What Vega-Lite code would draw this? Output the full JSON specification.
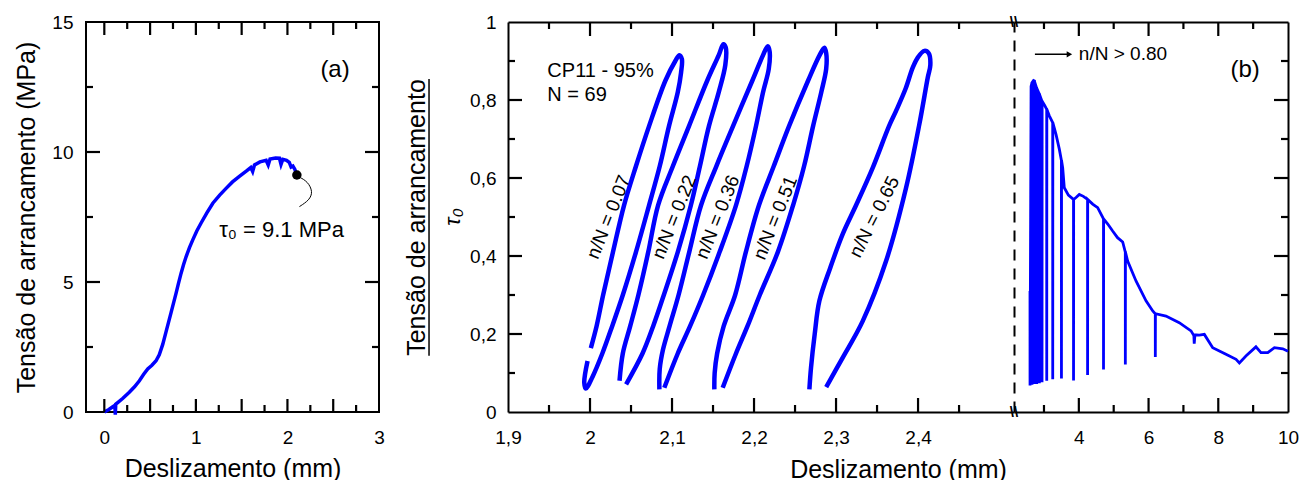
{
  "$schema": "https://vega.github.io/schema/vega-lite/v6.json",
  "background": "white",
  "padding": {"left": 12, "top": 12, "right": 10, "bottom": 0},
  "config": {
    "font": "Liberation Sans",
    "view": {"stroke": null},
    "axis": {"grid": false, "domain": false, "ticks": false, "tickSize": 0, "labelFont": "Liberation Sans", "labelFontSize": 19, "labelColor": "#000", "labelFlush": false, "labelOverlap": false, "titleFont": "Liberation Sans", "titleFontSize": 25, "titleFontWeight": "normal", "titleColor": "#000", "domainColor": "#000", "domainWidth": 2}
  },
  "datasets": {
    "curveA": [
      {"i":0,"x":0,"y":0},{"i":1,"x":0.05,"y":0.1},{"i":2,"x":0.1,"y":0.22},{"i":3,"x":0.115,"y":0.26},{"i":4,"x":0.12,"y":-0.1},{"i":5,"x":0.125,"y":0.3},{"i":6,"x":0.146,"y":0.36},{"i":7,"x":0.2,"y":0.52},{"i":8,"x":0.273,"y":0.76},{"i":9,"x":0.33,"y":0.97},{"i":10,"x":0.383,"y":1.2},{"i":11,"x":0.43,"y":1.45},{"i":12,"x":0.474,"y":1.66},{"i":13,"x":0.52,"y":1.8},{"i":14,"x":0.565,"y":1.97},{"i":15,"x":0.6,"y":2.2},{"i":16,"x":0.638,"y":2.6},{"i":17,"x":0.674,"y":3.08},{"i":18,"x":0.729,"y":3.82},{"i":19,"x":0.784,"y":4.57},{"i":20,"x":0.81,"y":4.95},{"i":21,"x":0.838,"y":5.33},{"i":22,"x":0.865,"y":5.66},{"i":23,"x":0.893,"y":5.97},{"i":24,"x":0.93,"y":6.32},{"i":25,"x":0.966,"y":6.62},{"i":26,"x":1.01,"y":6.96},{"i":27,"x":1.057,"y":7.27},{"i":28,"x":1.12,"y":7.66},{"i":29,"x":1.185,"y":8.03},{"i":30,"x":1.26,"y":8.34},{"i":31,"x":1.33,"y":8.6},{"i":32,"x":1.4,"y":8.85},{"i":33,"x":1.475,"y":9.06},{"i":34,"x":1.55,"y":9.26},{"i":35,"x":1.6,"y":9.4},{"i":36,"x":1.62,"y":9.25},{"i":37,"x":1.64,"y":9.5},{"i":38,"x":1.7,"y":9.62},{"i":39,"x":1.767,"y":9.68},{"i":40,"x":1.79,"y":9.5},{"i":41,"x":1.81,"y":9.73},{"i":42,"x":1.87,"y":9.77},{"i":43,"x":1.913,"y":9.76},{"i":44,"x":1.93,"y":9.52},{"i":45,"x":1.95,"y":9.72},{"i":46,"x":1.99,"y":9.68},{"i":47,"x":2.02,"y":9.6},{"i":48,"x":2.04,"y":9.42},{"i":49,"x":2.06,"y":9.46},{"i":50,"x":2.08,"y":9.34},{"i":51,"x":2.103,"y":9.12}
    ],
    "leader": [
      {"i":0,"x":2.128,"y":9.04},{"i":1,"x":2.223,"y":8.86},{"i":2,"x":2.278,"y":8.47},{"i":3,"x":2.24,"y":8.15},{"i":4,"x":2.131,"y":7.9}
    ],
    "tkA": [
      {"t":1,"x":0,"y":0},{"t":1,"x":0,"y":0.5},{"t":2,"x":0.5,"y":0},{"t":2,"x":0.5,"y":0.5},{"t":3,"x":1,"y":0},{"t":3,"x":1,"y":0.5},{"t":4,"x":1.5,"y":0},{"t":4,"x":1.5,"y":0.5},{"t":5,"x":2,"y":0},{"t":5,"x":2,"y":0.5},{"t":6,"x":2.5,"y":0},{"t":6,"x":2.5,"y":0.5},
      {"t":7,"x":0.25,"y":0},{"t":7,"x":0.25,"y":0.27},{"t":8,"x":0.75,"y":0},{"t":8,"x":0.75,"y":0.27},{"t":9,"x":1.25,"y":0},{"t":9,"x":1.25,"y":0.27},{"t":10,"x":1.75,"y":0},{"t":10,"x":1.75,"y":0.27},{"t":11,"x":2.25,"y":0},{"t":11,"x":2.25,"y":0.27},{"t":12,"x":2.75,"y":0},{"t":12,"x":2.75,"y":0.27},
      {"t":13,"x":0,"y":15},{"t":13,"x":0,"y":14.5},{"t":14,"x":0.5,"y":15},{"t":14,"x":0.5,"y":14.5},{"t":15,"x":1,"y":15},{"t":15,"x":1,"y":14.5},{"t":16,"x":1.5,"y":15},{"t":16,"x":1.5,"y":14.5},{"t":17,"x":2,"y":15},{"t":17,"x":2,"y":14.5},{"t":18,"x":2.5,"y":15},{"t":18,"x":2.5,"y":14.5},
      {"t":19,"x":0.25,"y":15},{"t":19,"x":0.25,"y":14.73},{"t":20,"x":0.75,"y":15},{"t":20,"x":0.75,"y":14.73},{"t":21,"x":1.25,"y":15},{"t":21,"x":1.25,"y":14.73},{"t":22,"x":1.75,"y":15},{"t":22,"x":1.75,"y":14.73},{"t":23,"x":2.25,"y":15},{"t":23,"x":2.25,"y":14.73},{"t":24,"x":2.75,"y":15},{"t":24,"x":2.75,"y":14.73},
      {"t":25,"x":-0.2,"y":5},{"t":25,"x":-0.047,"y":5},{"t":26,"x":-0.2,"y":10},{"t":26,"x":-0.047,"y":10},
      {"t":27,"x":-0.2,"y":2.5},{"t":27,"x":-0.1235,"y":2.5},{"t":28,"x":-0.2,"y":7.5},{"t":28,"x":-0.1235,"y":7.5},{"t":29,"x":-0.2,"y":12.5},{"t":29,"x":-0.1235,"y":12.5},
      {"t":30,"x":3,"y":5},{"t":30,"x":2.847,"y":5},{"t":31,"x":3,"y":10},{"t":31,"x":2.847,"y":10},
      {"t":32,"x":3,"y":2.5},{"t":32,"x":2.9235,"y":2.5},{"t":33,"x":3,"y":7.5},{"t":33,"x":2.9235,"y":7.5},{"t":34,"x":3,"y":12.5},{"t":34,"x":2.9235,"y":12.5}
    ],
    "tkBL": [
      {"t":1,"x":2,"y":0},{"t":1,"x":2,"y":0.0359},{"t":2,"x":2.1,"y":0},{"t":2,"x":2.1,"y":0.0359},{"t":3,"x":2.2,"y":0},{"t":3,"x":2.2,"y":0.0359},{"t":4,"x":2.3,"y":0},{"t":4,"x":2.3,"y":0.0359},{"t":5,"x":2.4,"y":0},{"t":5,"x":2.4,"y":0.0359},
      {"t":6,"x":1.95,"y":0},{"t":6,"x":1.95,"y":0.018},{"t":7,"x":2.05,"y":0},{"t":7,"x":2.05,"y":0.018},{"t":8,"x":2.15,"y":0},{"t":8,"x":2.15,"y":0.018},{"t":9,"x":2.25,"y":0},{"t":9,"x":2.25,"y":0.018},{"t":10,"x":2.35,"y":0},{"t":10,"x":2.35,"y":0.018},{"t":11,"x":2.45,"y":0},{"t":11,"x":2.45,"y":0.018},
      {"t":12,"x":2,"y":1},{"t":12,"x":2,"y":0.9641},{"t":13,"x":2.1,"y":1},{"t":13,"x":2.1,"y":0.9641},{"t":14,"x":2.2,"y":1},{"t":14,"x":2.2,"y":0.9641},{"t":15,"x":2.3,"y":1},{"t":15,"x":2.3,"y":0.9641},{"t":16,"x":2.4,"y":1},{"t":16,"x":2.4,"y":0.9641},
      {"t":17,"x":1.95,"y":1},{"t":17,"x":1.95,"y":0.982},{"t":18,"x":2.05,"y":1},{"t":18,"x":2.05,"y":0.982},{"t":19,"x":2.15,"y":1},{"t":19,"x":2.15,"y":0.982},{"t":20,"x":2.25,"y":1},{"t":20,"x":2.25,"y":0.982},{"t":21,"x":2.35,"y":1},{"t":21,"x":2.35,"y":0.982},{"t":22,"x":2.45,"y":1},{"t":22,"x":2.45,"y":0.982},
      {"t":23,"x":1.9,"y":0.2},{"t":23,"x":1.91707,"y":0.2},{"t":24,"x":1.9,"y":0.4},{"t":24,"x":1.91707,"y":0.4},{"t":25,"x":1.9,"y":0.6},{"t":25,"x":1.91707,"y":0.6},{"t":26,"x":1.9,"y":0.8},{"t":26,"x":1.91707,"y":0.8},
      {"t":27,"x":1.9,"y":0.1},{"t":27,"x":1.90854,"y":0.1},{"t":28,"x":1.9,"y":0.3},{"t":28,"x":1.90854,"y":0.3},{"t":29,"x":1.9,"y":0.5},{"t":29,"x":1.90854,"y":0.5},{"t":30,"x":1.9,"y":0.7},{"t":30,"x":1.90854,"y":0.7},{"t":31,"x":1.9,"y":0.9},{"t":31,"x":1.90854,"y":0.9}
    ],
    "tkBR": [
      {"t":1,"x":4,"y":0},{"t":1,"x":4,"y":0.0359},{"t":2,"x":6,"y":0},{"t":2,"x":6,"y":0.0359},{"t":3,"x":8,"y":0},{"t":3,"x":8,"y":0.0359},
      {"t":4,"x":3,"y":0},{"t":4,"x":3,"y":0.018},{"t":5,"x":5,"y":0},{"t":5,"x":5,"y":0.018},{"t":6,"x":7,"y":0},{"t":6,"x":7,"y":0.018},{"t":7,"x":9,"y":0},{"t":7,"x":9,"y":0.018},
      {"t":8,"x":4,"y":1},{"t":8,"x":4,"y":0.9641},{"t":9,"x":6,"y":1},{"t":9,"x":6,"y":0.9641},{"t":10,"x":8,"y":1},{"t":10,"x":8,"y":0.9641},
      {"t":11,"x":3,"y":1},{"t":11,"x":3,"y":0.982},{"t":12,"x":5,"y":1},{"t":12,"x":5,"y":0.982},{"t":13,"x":7,"y":1},{"t":13,"x":7,"y":0.982},{"t":14,"x":9,"y":1},{"t":14,"x":9,"y":0.982},
      {"t":15,"x":10,"y":0.2},{"t":15,"x":9.5984,"y":0.2},{"t":16,"x":10,"y":0.4},{"t":16,"x":9.5984,"y":0.4},{"t":17,"x":10,"y":0.6},{"t":17,"x":9.5984,"y":0.6},{"t":18,"x":10,"y":0.8},{"t":18,"x":9.5984,"y":0.8},
      {"t":19,"x":10,"y":0.1},{"t":19,"x":9.7992,"y":0.1},{"t":20,"x":10,"y":0.3},{"t":20,"x":9.7992,"y":0.3},{"t":21,"x":10,"y":0.5},{"t":21,"x":9.7992,"y":0.5},{"t":22,"x":10,"y":0.7},{"t":22,"x":9.7992,"y":0.7},{"t":23,"x":10,"y":0.9},{"t":23,"x":9.7992,"y":0.9}
    ],
    "loops": [
      {"loop":1,"i":0,"x":2.001,"y":0.164},{"loop":1,"i":1,"x":2.008,"y":0.22},{"loop":1,"i":2,"x":2.016,"y":0.3},{"loop":1,"i":3,"x":2.028,"y":0.41},{"loop":1,"i":4,"x":2.0415,"y":0.53},{"loop":1,"i":5,"x":2.056,"y":0.63},{"loop":1,"i":6,"x":2.072,"y":0.733},{"loop":1,"i":7,"x":2.092,"y":0.85},{"loop":1,"i":8,"x":2.104,"y":0.9},{"loop":1,"i":9,"x":2.109,"y":0.915},{"loop":1,"i":10,"x":2.112,"y":0.905},{"loop":1,"i":11,"x":2.111,"y":0.87},{"loop":1,"i":12,"x":2.107,"y":0.82},{"loop":1,"i":13,"x":2.0963,"y":0.733},{"loop":1,"i":14,"x":2.085,"y":0.63},{"loop":1,"i":15,"x":2.072,"y":0.53},{"loop":1,"i":16,"x":2.056,"y":0.41},{"loop":1,"i":17,"x":2.04,"y":0.3},{"loop":1,"i":18,"x":2.027,"y":0.22},{"loop":1,"i":19,"x":2.015,"y":0.15},{"loop":1,"i":20,"x":2.003,"y":0.09},{"loop":1,"i":21,"x":1.995,"y":0.06},{"loop":1,"i":22,"x":1.993,"y":0.075},{"loop":1,"i":23,"x":1.997,"y":0.131},
      {"loop":2,"i":0,"x":2.036,"y":0.08},{"loop":2,"i":1,"x":2.04,"y":0.15},{"loop":2,"i":2,"x":2.049,"y":0.22},{"loop":2,"i":3,"x":2.059,"y":0.3},{"loop":2,"i":4,"x":2.071,"y":0.41},{"loop":2,"i":5,"x":2.083,"y":0.53},{"loop":2,"i":6,"x":2.101,"y":0.63},{"loop":2,"i":7,"x":2.1207,"y":0.733},{"loop":2,"i":8,"x":2.143,"y":0.85},{"loop":2,"i":9,"x":2.157,"y":0.915},{"loop":2,"i":10,"x":2.1626,"y":0.943},{"loop":2,"i":11,"x":2.1655,"y":0.935},{"loop":2,"i":12,"x":2.165,"y":0.89},{"loop":2,"i":13,"x":2.157,"y":0.82},{"loop":2,"i":14,"x":2.145,"y":0.733},{"loop":2,"i":15,"x":2.134,"y":0.63},{"loop":2,"i":16,"x":2.123,"y":0.53},{"loop":2,"i":17,"x":2.107,"y":0.41},{"loop":2,"i":18,"x":2.09,"y":0.3},{"loop":2,"i":19,"x":2.077,"y":0.22},{"loop":2,"i":20,"x":2.064,"y":0.15},{"loop":2,"i":21,"x":2.044,"y":0.071},
      {"loop":3,"i":0,"x":2.0846,"y":0.058},{"loop":3,"i":1,"x":2.085,"y":0.11},{"loop":3,"i":2,"x":2.089,"y":0.16},{"loop":3,"i":3,"x":2.097,"y":0.22},{"loop":3,"i":4,"x":2.108,"y":0.3},{"loop":3,"i":5,"x":2.121,"y":0.41},{"loop":3,"i":6,"x":2.1354,"y":0.53},{"loop":3,"i":7,"x":2.154,"y":0.63},{"loop":3,"i":8,"x":2.1744,"y":0.733},{"loop":3,"i":9,"x":2.198,"y":0.85},{"loop":3,"i":10,"x":2.211,"y":0.915},{"loop":3,"i":11,"x":2.2167,"y":0.938},{"loop":3,"i":12,"x":2.219,"y":0.925},{"loop":3,"i":13,"x":2.218,"y":0.88},{"loop":3,"i":14,"x":2.211,"y":0.82},{"loop":3,"i":15,"x":2.2024,"y":0.733},{"loop":3,"i":16,"x":2.191,"y":0.63},{"loop":3,"i":17,"x":2.178,"y":0.53},{"loop":3,"i":18,"x":2.158,"y":0.41},{"loop":3,"i":19,"x":2.138,"y":0.3},{"loop":3,"i":20,"x":2.122,"y":0.22},{"loop":3,"i":21,"x":2.107,"y":0.15},{"loop":3,"i":22,"x":2.0906,"y":0.062},
      {"loop":4,"i":0,"x":2.1516,"y":0.058},{"loop":4,"i":1,"x":2.152,"y":0.1},{"loop":4,"i":2,"x":2.155,"y":0.15},{"loop":4,"i":3,"x":2.163,"y":0.22},{"loop":4,"i":4,"x":2.177,"y":0.3},{"loop":4,"i":5,"x":2.19,"y":0.41},{"loop":4,"i":6,"x":2.206,"y":0.53},{"loop":4,"i":7,"x":2.224,"y":0.63},{"loop":4,"i":8,"x":2.2427,"y":0.733},{"loop":4,"i":9,"x":2.266,"y":0.85},{"loop":4,"i":10,"x":2.28,"y":0.915},{"loop":4,"i":11,"x":2.2858,"y":0.934},{"loop":4,"i":12,"x":2.288,"y":0.92},{"loop":4,"i":13,"x":2.288,"y":0.88},{"loop":4,"i":14,"x":2.282,"y":0.82},{"loop":4,"i":15,"x":2.272,"y":0.733},{"loop":4,"i":16,"x":2.261,"y":0.63},{"loop":4,"i":17,"x":2.2476,"y":0.53},{"loop":4,"i":18,"x":2.229,"y":0.41},{"loop":4,"i":19,"x":2.207,"y":0.3},{"loop":4,"i":20,"x":2.192,"y":0.22},{"loop":4,"i":21,"x":2.178,"y":0.15},{"loop":4,"i":22,"x":2.1618,"y":0.062},
      {"loop":5,"i":0,"x":2.2675,"y":0.058},{"loop":5,"i":1,"x":2.2695,"y":0.114},{"loop":5,"i":2,"x":2.274,"y":0.2},{"loop":5,"i":3,"x":2.2797,"y":0.285},{"loop":5,"i":4,"x":2.293,"y":0.37},{"loop":5,"i":5,"x":2.3081,"y":0.456},{"loop":5,"i":6,"x":2.3244,"y":0.53},{"loop":5,"i":7,"x":2.3447,"y":0.626},{"loop":5,"i":8,"x":2.3646,"y":0.733},{"loop":5,"i":9,"x":2.3732,"y":0.772},{"loop":5,"i":10,"x":2.385,"y":0.83},{"loop":5,"i":11,"x":2.3935,"y":0.883},{"loop":5,"i":12,"x":2.4,"y":0.91},{"loop":5,"i":13,"x":2.4077,"y":0.926},{"loop":5,"i":14,"x":2.413,"y":0.92},{"loop":5,"i":15,"x":2.415,"y":0.89},{"loop":5,"i":16,"x":2.4118,"y":0.857},{"loop":5,"i":17,"x":2.4016,"y":0.738},{"loop":5,"i":18,"x":2.3854,"y":0.575},{"loop":5,"i":19,"x":2.361,"y":0.387},{"loop":5,"i":20,"x":2.3325,"y":0.233},{"loop":5,"i":21,"x":2.308,"y":0.139},{"loop":5,"i":22,"x":2.288,"y":0.064}
    ],
    "spikes": [
      {"i":0,"x":2.599,"y":0.31},{"i":1,"x":2.6,"y":0.068},{"i":2,"x":2.63,"y":0.835},{"i":3,"x":2.656,"y":0.845},{"i":4,"x":2.657,"y":0.07},{"i":5,"x":2.66,"y":0.845},{"i":6,"x":2.7,"y":0.85},{"i":7,"x":2.722,"y":0.849},{"i":8,"x":2.723,"y":0.072},{"i":9,"x":2.726,"y":0.848},{"i":10,"x":2.79,"y":0.83},{"i":11,"x":2.791,"y":0.072},{"i":12,"x":2.794,"y":0.83},{"i":13,"x":2.866,"y":0.815},{"i":14,"x":2.867,"y":0.074},{"i":15,"x":2.87,"y":0.815},{"i":16,"x":2.943,"y":0.797},{"i":17,"x":2.944,"y":0.076},{"i":18,"x":2.947,"y":0.797},{"i":19,"x":3.02,"y":0.786},{"i":20,"x":3.078,"y":0.776},{"i":21,"x":3.079,"y":0.08},{"i":22,"x":3.082,"y":0.776},{"i":23,"x":3.15,"y":0.76},{"i":24,"x":3.25,"y":0.742},{"i":25,"x":3.251,"y":0.084},{"i":26,"x":3.254,"y":0.742},{"i":27,"x":3.345,"y":0.712},{"i":28,"x":3.44,"y":0.674},{"i":29,"x":3.5,"y":0.645},{"i":30,"x":3.501,"y":0.086},{"i":31,"x":3.504,"y":0.645},{"i":32,"x":3.537,"y":0.626},{"i":33,"x":3.583,"y":0.575},{"i":34,"x":3.7,"y":0.556},{"i":35,"x":3.847,"y":0.545},{"i":36,"x":3.848,"y":0.081},{"i":37,"x":3.851,"y":0.545},{"i":38,"x":3.92,"y":0.55},{"i":39,"x":4.013,"y":0.558},{"i":40,"x":4.13,"y":0.553},{"i":41,"x":4.25,"y":0.545},{"i":42,"x":4.251,"y":0.095},{"i":43,"x":4.254,"y":0.545},{"i":44,"x":4.397,"y":0.533},{"i":45,"x":4.54,"y":0.524},{"i":46,"x":4.707,"y":0.495},{"i":47,"x":4.708,"y":0.109},{"i":48,"x":4.711,"y":0.495},{"i":49,"x":4.83,"y":0.482},{"i":50,"x":4.97,"y":0.464},{"i":51,"x":5.11,"y":0.447},{"i":52,"x":5.258,"y":0.436},{"i":53,"x":5.333,"y":0.41},{"i":54,"x":5.334,"y":0.122},{"i":55,"x":5.337,"y":0.41},{"i":56,"x":5.4,"y":0.387},{"i":57,"x":5.64,"y":0.336},{"i":58,"x":5.927,"y":0.285},{"i":59,"x":6.12,"y":0.259},{"i":60,"x":6.193,"y":0.252},{"i":61,"x":6.194,"y":0.141},{"i":62,"x":6.197,"y":0.252},{"i":63,"x":6.5,"y":0.246},{"i":64,"x":6.88,"y":0.229},{"i":65,"x":7.218,"y":0.208},{"i":66,"x":7.3,"y":0.196},{"i":67,"x":7.31,"y":0.175},{"i":68,"x":7.33,"y":0.198},{"i":69,"x":7.455,"y":0.197},{"i":70,"x":7.6,"y":0.199},{"i":71,"x":7.84,"y":0.165},{"i":72,"x":8.22,"y":0.148},{"i":73,"x":8.51,"y":0.135},{"i":74,"x":8.605,"y":0.126},{"i":75,"x":8.8,"y":0.144},{"i":76,"x":9.08,"y":0.167},{"i":77,"x":9.225,"y":0.152},{"i":78,"x":9.42,"y":0.152},{"i":79,"x":9.61,"y":0.165},{"i":80,"x":9.85,"y":0.162},{"i":81,"x":10,"y":0.156}
    ]
  },
  "hconcat": [
    {
      "width": 293,
      "height": 390,
      "view": {"stroke": "#000", "strokeWidth": 2},
      "resolve": {"axis": {"x": "independent", "y": "independent"}},
      "layer": [
        {
          "data": {"name": "curveA"},
          "mark": {"type": "line", "color": "#0000ff", "strokeWidth": 3.5},
          "encoding": {
            "x": {"field": "x", "type": "quantitative", "scale": {"domain": [-0.2, 3], "nice": false, "zero": false},
                  "axis": {"orient": "bottom", "values": [0, 1, 2, 3], "format": "d", "labelPadding": 31, "labelBaseline": "alphabetic", "title": "Deslizamento (mm)", "titleX": 146.5, "titleY": 64, "titleAlign": "center", "titleBaseline": "alphabetic"}},
            "y": {"field": "y", "type": "quantitative", "scale": {"domain": [0, 15], "nice": false, "zero": false},
                  "axis": {"orient": "left", "values": [0, 5, 10, 15], "format": "d", "labelPadding": 13, "labelBaseline": "middle", "title": "Tensão de arrancamento (MPa)", "titleX": -52, "titleY": 195, "titleAngle": 270, "titleAlign": "center", "titleBaseline": "alphabetic"}},
            "order": {"field": "i", "type": "quantitative"}
          }
        },
        {
          "data": {"name": "tkA"},
          "mark": {"type": "line", "color": "#000", "strokeWidth": 2.2, "strokeCap": "butt"},
          "encoding": {
            "x": {"field": "x", "type": "quantitative", "scale": {"domain": [-0.2, 3], "nice": false, "zero": false}, "axis": null},
            "y": {"field": "y", "type": "quantitative", "scale": {"domain": [0, 15], "nice": false, "zero": false}, "axis": null},
            "detail": {"field": "t", "type": "nominal"}
          }
        },
        {
          "data": {"values": [{"x": 2.103, "y": 9.115}]},
          "mark": {"type": "circle", "color": "#000", "size": 90, "opacity": 1},
          "encoding": {
            "x": {"field": "x", "type": "quantitative", "scale": {"domain": [-0.2, 3], "nice": false, "zero": false}, "axis": null},
            "y": {"field": "y", "type": "quantitative", "scale": {"domain": [0, 15], "nice": false, "zero": false}, "axis": null}
          }
        },
        {
          "data": {"name": "leader"},
          "mark": {"type": "line", "color": "#000", "strokeWidth": 1, "interpolate": "basis"},
          "encoding": {
            "x": {"field": "x", "type": "quantitative", "scale": {"domain": [-0.2, 3], "nice": false, "zero": false}, "axis": null},
            "y": {"field": "y", "type": "quantitative", "scale": {"domain": [0, 15], "nice": false, "zero": false}, "axis": null},
            "order": {"field": "i", "type": "quantitative"}
          }
        },
        {
          "data": {"values": [{"x": 1.254, "y": 7.0, "label": "τ₀ = 9.1 MPa"}]},
          "mark": {"type": "text", "align": "left", "baseline": "middle", "fontSize": 22, "color": "#000"},
          "encoding": {
            "x": {"field": "x", "type": "quantitative", "scale": {"domain": [-0.2, 3], "nice": false, "zero": false}, "axis": null},
            "y": {"field": "y", "type": "quantitative", "scale": {"domain": [0, 15], "nice": false, "zero": false}, "axis": null},
            "text": {"field": "label"}
          }
        },
        {
          "data": {"values": [{"x": 2.52, "y": 13.15, "label": "(a)"}]},
          "mark": {"type": "text", "align": "center", "baseline": "middle", "fontSize": 24, "color": "#000"},
          "encoding": {
            "x": {"field": "x", "type": "quantitative", "scale": {"domain": [-0.2, 3], "nice": false, "zero": false}, "axis": null},
            "y": {"field": "y", "type": "quantitative", "scale": {"domain": [0, 15], "nice": false, "zero": false}, "axis": null},
            "text": {"field": "label"}
          }
        }
      ]
    },
    {
      "hconcat": [
        {
          "width": 506,
          "height": 390,
          "resolve": {"axis": {"x": "independent", "y": "independent"}},
          "layer": [
            {
              "data": {"name": "loops"},
              "mark": {"type": "line", "color": "#0000ff", "strokeWidth": 4.5, "interpolate": "catmull-rom"},
              "encoding": {
                "x": {"field": "x", "type": "quantitative", "scale": {"domain": [1.9, 2.517], "nice": false, "zero": false},
                      "axis": {"orient": "bottom", "domain": true, "values": [1.9, 2, 2.1, 2.2, 2.3, 2.4], "labelExpr": "replace(format(datum.value, '.1~f'), '.', ',')", "labelPadding": 31, "labelBaseline": "alphabetic", "title": "Deslizamento (mm)", "titleX": 390, "titleY": 65, "titleAlign": "center", "titleBaseline": "alphabetic"}},
                "y": {"field": "y", "type": "quantitative", "scale": {"domain": [0, 1], "nice": false, "zero": false},
                      "axis": {"orient": "left", "domain": true, "values": [0, 0.2, 0.4, 0.6, 0.8, 1], "labelExpr": "replace(format(datum.value, '.1~f'), '.', ',')", "labelPadding": 12, "labelBaseline": "middle", "title": "Tensão de arrancamento", "titleX": -84, "titleY": 195, "titleAngle": 270, "titleAlign": "center", "titleBaseline": "alphabetic"}},
                "detail": {"field": "loop", "type": "nominal"},
                "order": {"field": "i", "type": "quantitative"}
              }
            },
            {
              "data": {"values": [
                {"x": 2.0228, "y": 0.5, "label": "n/N = 0.07"},
                {"x": 2.1028, "y": 0.5, "label": "n/N = 0.22"},
                {"x": 2.1557, "y": 0.5, "label": "n/N = 0.36"},
                {"x": 2.226, "y": 0.498, "label": "n/N = 0.51"}
              ]},
              "mark": {"type": "text", "align": "center", "baseline": "middle", "fontSize": 19, "angle": 292, "color": "#000"},
              "encoding": {
                "x": {"field": "x", "type": "quantitative", "scale": {"domain": [1.9, 2.517], "nice": false, "zero": false},
                      "axis": {"orient": "top", "domain": true, "labels": false, "title": null}},
                "y": {"field": "y", "type": "quantitative", "scale": {"domain": [0, 1], "nice": false, "zero": false}, "axis": null},
                "text": {"field": "label"}
              }
            },
            {
              "data": {"name": "tkBL"},
              "mark": {"type": "line", "color": "#000", "strokeWidth": 2.2, "strokeCap": "butt"},
              "encoding": {
                "x": {"field": "x", "type": "quantitative", "scale": {"domain": [1.9, 2.517], "nice": false, "zero": false}, "axis": null},
                "y": {"field": "y", "type": "quantitative", "scale": {"domain": [0, 1], "nice": false, "zero": false}, "axis": null},
                "detail": {"field": "t", "type": "nominal"}
              }
            },
            {
              "data": {"values": [{"x": 2.3467, "y": 0.5, "label": "n/N = 0.65"}]},
              "mark": {"type": "text", "align": "center", "baseline": "middle", "fontSize": 19, "angle": 297, "color": "#000"},
              "encoding": {
                "x": {"field": "x", "type": "quantitative", "scale": {"domain": [1.9, 2.517], "nice": false, "zero": false}, "axis": null},
                "y": {"field": "y", "type": "quantitative", "scale": {"domain": [0, 1], "nice": false, "zero": false}, "axis": null},
                "text": {"field": "label"}
              }
            },
            {
              "data": {"values": [
                {"x": 1.948, "y": 0.874, "label": "CP11 - 95%"},
                {"x": 1.948, "y": 0.812, "label": "N = 69"}
              ]},
              "mark": {"type": "text", "align": "left", "baseline": "middle", "fontSize": 20, "color": "#000"},
              "encoding": {
                "x": {"field": "x", "type": "quantitative", "scale": {"domain": [1.9, 2.517], "nice": false, "zero": false}, "axis": null},
                "y": {"field": "y", "type": "quantitative", "scale": {"domain": [0, 1], "nice": false, "zero": false}, "axis": null},
                "text": {"field": "label"}
              }
            },
            {
              "data": {"values": [{"x": 1.8037, "y": 0.144, "y2": 0.854}]},
              "mark": {"type": "rule", "color": "#000", "strokeWidth": 1.5},
              "encoding": {
                "x": {"field": "x", "type": "quantitative", "scale": {"domain": [1.9, 2.517], "nice": false, "zero": false}, "axis": null},
                "y": {"field": "y", "type": "quantitative", "scale": {"domain": [0, 1], "nice": false, "zero": false}, "axis": null},
                "y2": {"field": "y2"}
              }
            },
            {
              "data": {"values": [{"x": 1.833, "y": 0.5, "label": "τ₀"}]},
              "mark": {"type": "text", "align": "center", "baseline": "middle", "fontSize": 22, "fontStyle": "italic", "angle": 270, "color": "#000"},
              "encoding": {
                "x": {"field": "x", "type": "quantitative", "scale": {"domain": [1.9, 2.517], "nice": false, "zero": false}, "axis": null},
                "y": {"field": "y", "type": "quantitative", "scale": {"domain": [0, 1], "nice": false, "zero": false}, "axis": null},
                "text": {"field": "label"}
              }
            }
          ]
        },
        {
          "width": 274,
          "height": 390,
          "resolve": {"axis": {"x": "independent", "y": "independent"}},
          "layer": [
            {
              "data": {"name": "spikes"},
              "mark": {"type": "line", "color": "#0000ff", "strokeWidth": 2.8},
              "encoding": {
                "x": {"field": "x", "type": "quantitative", "scale": {"domain": [2.14, 10], "nice": false, "zero": false},
                      "axis": {"orient": "bottom", "domain": true, "values": [4, 6, 8, 10], "format": "d", "labelPadding": 31, "labelBaseline": "alphabetic", "title": null}},
                "y": {"field": "y", "type": "quantitative", "scale": {"domain": [0, 1], "nice": false, "zero": false},
                      "axis": {"orient": "right", "domain": true, "labels": false, "title": null}},
                "order": {"field": "i", "type": "quantitative"}
              }
            },
            {
              "data": {"values": [{"x": 4.0, "y": 0.917, "label": "n/N > 0.80"}]},
              "mark": {"type": "text", "align": "left", "baseline": "middle", "fontSize": 19, "color": "#000"},
              "encoding": {
                "x": {"field": "x", "type": "quantitative", "scale": {"domain": [2.14, 10], "nice": false, "zero": false},
                      "axis": {"orient": "top", "domain": true, "labels": false, "title": null}},
                "y": {"field": "y", "type": "quantitative", "scale": {"domain": [0, 1], "nice": false, "zero": false},
                      "axis": {"orient": "left", "domain": true, "domainDash": [11, 8], "labels": false, "title": null}},
                "text": {"field": "label"}
              }
            },
            {
              "data": {"name": "tkBR"},
              "mark": {"type": "line", "color": "#000", "strokeWidth": 2.2, "strokeCap": "butt"},
              "encoding": {
                "x": {"field": "x", "type": "quantitative", "scale": {"domain": [2.14, 10], "nice": false, "zero": false}, "axis": null},
                "y": {"field": "y", "type": "quantitative", "scale": {"domain": [0, 1], "nice": false, "zero": false}, "axis": null},
                "detail": {"field": "t", "type": "nominal"}
              }
            },
            {
              "data": {"values": [{"x": 8.77, "y": 0.877, "label": "(b)"}]},
              "mark": {"type": "text", "align": "center", "baseline": "middle", "fontSize": 24, "color": "#000"},
              "encoding": {
                "x": {"field": "x", "type": "quantitative", "scale": {"domain": [2.14, 10], "nice": false, "zero": false}, "axis": null},
                "y": {"field": "y", "type": "quantitative", "scale": {"domain": [0, 1], "nice": false, "zero": false}, "axis": null},
                "text": {"field": "label"}
              }
            },
            {
              "data": {"values": [{"x": 2.74, "x2": 3.72, "y": 0.917}]},
              "mark": {"type": "rule", "color": "#000", "strokeWidth": 1.5},
              "encoding": {
                "x": {"field": "x", "type": "quantitative", "scale": {"domain": [2.14, 10], "nice": false, "zero": false}, "axis": null},
                "x2": {"field": "x2"},
                "y": {"field": "y", "type": "quantitative", "scale": {"domain": [0, 1], "nice": false, "zero": false}, "axis": null}
              }
            },
            {
              "data": {"values": [{"x": 3.73, "y": 0.917}]},
              "mark": {"type": "point", "shape": "triangle-right", "filled": true, "color": "#000", "size": 40, "opacity": 1},
              "encoding": {
                "x": {"field": "x", "type": "quantitative", "scale": {"domain": [2.14, 10], "nice": false, "zero": false}, "axis": null},
                "y": {"field": "y", "type": "quantitative", "scale": {"domain": [0, 1], "nice": false, "zero": false}, "axis": null}
              }
            },
            {
              "data": {"values": [{"x": 2.14, "y": 1, "label": "\\\\"}, {"x": 2.14, "y": 0, "label": "\\\\"}]},
              "mark": {"type": "text", "align": "center", "baseline": "middle", "fontSize": 15, "fontWeight": "bold", "color": "#000"},
              "encoding": {
                "x": {"field": "x", "type": "quantitative", "scale": {"domain": [2.14, 10], "nice": false, "zero": false}, "axis": null},
                "y": {"field": "y", "type": "quantitative", "scale": {"domain": [0, 1], "nice": false, "zero": false}, "axis": null},
                "text": {"field": "label"}
              }
            }
          ]
        }
      ],
      "spacing": 0,
      "bounds": "flush"
    }
  ],
  "spacing": 129,
  "bounds": "flush"
}
